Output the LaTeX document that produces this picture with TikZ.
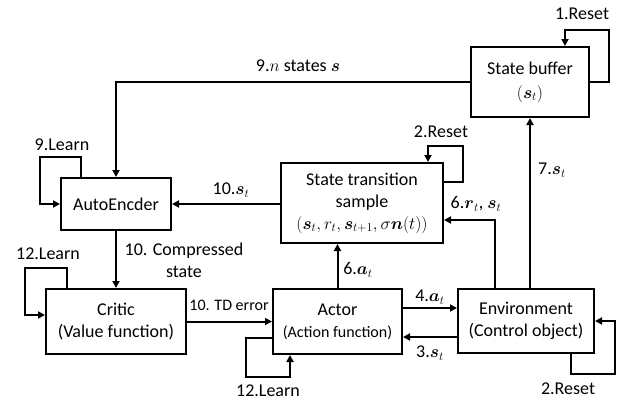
\documentclass[tikz,border=0pt]{standalone}
\usepackage{amsmath,amsbsy}
\usepackage{fontspec}
\setmainfont{Carlito}
\usetikzlibrary{arrows.meta}
\begin{document}
\begin{tikzpicture}[x=1pt,y=-1pt,
  box/.style={draw,line width=2pt,align=center,inner sep=0pt,font=\fontsize{18}{22}\selectfont},
  arr/.style={line width=2pt,-{Triangle[length=7pt,width=7pt]}},
  lbl/.style={inner sep=0pt,font=\fontsize{18}{22}\selectfont},
  slbl/.style={inner sep=0pt,font=\fontsize{16}{20}\selectfont}]
\useasboundingbox (0,0) rectangle (627,405);
\node[box,minimum width=118pt,minimum height=70pt] (sb) at (530,82) {State buffer\\[2pt]$(\boldsymbol{s}_t)$};
\node[box,minimum width=110pt,minimum height=52pt] (ae) at (116,204) {AutoEncder};
\node[box,minimum width=162pt,minimum height=80pt] (sts) at (362,203) {State transition\\sample\\$(\boldsymbol{s}_t, r_t, \boldsymbol{s}_{t+1}, \sigma\boldsymbol{n}(t))$};
\node[box,minimum width=140pt,minimum height=65pt] (cr) at (116,321.5) {Critic\\(Value function)};
\node[box,minimum width=129pt,minimum height=65pt] (ac) at (337.5,321.5) {Actor\\{\fontsize{16}{20}\selectfont(Action function)}};
\node[box,minimum width=136pt,minimum height=64pt] (env) at (526,321) {Environment\\(Control object)};

% loops
\draw[arr] (sb.east) -- ++(19,0) -- ++(0,-52) -| ([xshift=35pt]sb.north);
\draw[arr] ([yshift=21pt]sts.east) -- ++(19,0) -- ++(0,-36) -| ([xshift=66pt]sts.north);
\draw[arr] ([xshift=-35pt]ae.north) -- ++(0,-20) -- ++(-41,0) |- (ae.west);
\draw[arr] ([xshift=-49pt]cr.north) -- ++(0,-20) -- ++(-42,0) |- ([yshift=6.5pt]cr.west);
\draw[arr] ([yshift=-16.5pt]ac.west) -- ++(-26,0) -- ++(0,39) -| ([xshift=-47.5pt]ac.south);
\draw[arr] ([xshift=45pt]env.south) -- ++(0,20) -- ++(44,0) |- (env.east);

% connectors
\draw[arr] (sb.west) -| (ae.north);
\draw[arr] (ae.east -| sts.west) -- (ae.east);
\draw[arr] (ae.south) -- (cr.north);
\draw[arr] (cr.east) -- (cr.east -| ac.west);
\draw[arr] (ac.north) -- (ac.north |- sts.south);
\draw[arr] ([yshift=13.5pt]ac.east) -- ([yshift=13.5pt]ac.east -| env.west);
\draw[arr] ([yshift=-16pt]env.west) -- ([yshift=-16pt]env.west -| ac.east);
\draw[arr] ([xshift=-31pt]env.north) |- ([yshift=-17pt]sts.east);
\draw[arr] (sb.south |- env.north) -- (sb.south);

% labels
\node[lbl] (l1) at (582,14) {1.Reset};
\node[lbl] (l9n) at (298,66) {9.$n$ states $\boldsymbol{s}$};
\node[lbl] (l9l) at (62,145) {9.Learn};
\node[lbl] (l2a) at (441,132) {2.Reset};
\node[lbl] (l10s) at (231,190) {10.$\boldsymbol{s}_t$};
\node[lbl] (l6r) at (476,204) {6.$\boldsymbol{r}_t$, $\boldsymbol{s}_t$};
\node[lbl] (l7) at (552,170) {7.$\boldsymbol{s}_t$};
\node[lbl,align=center] (l10c) at (184,260) {10. Compressed\\state};
\node[lbl] (l12a) at (48,254) {12.Learn};
\node[slbl] (ltd) at (229,305) {10. TD error};
\node[lbl] (l6a) at (358,270) {6.$\boldsymbol{a}_t$};
\node[lbl] (l4) at (430,297) {4.$\boldsymbol{a}_t$};
\node[lbl] (l3) at (430,353) {3.$\boldsymbol{s}_t$};
\node[lbl] (l12b) at (268,391) {12.Learn};
\node[lbl] (l2b) at (568,389) {2.Reset};
\end{tikzpicture}
\end{document}
